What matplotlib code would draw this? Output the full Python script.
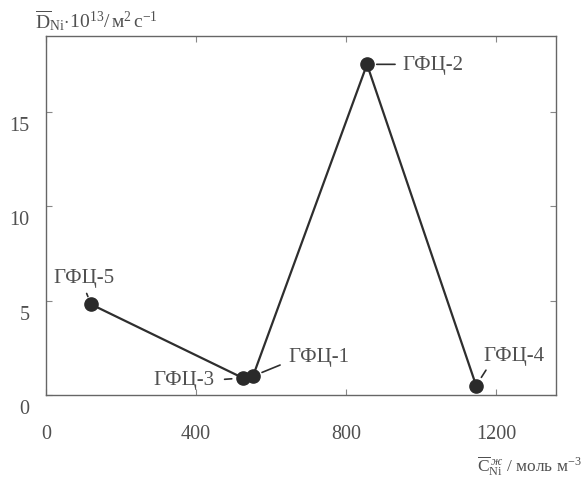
import matplotlib
matplotlib.use("Agg")
import matplotlib.pyplot as plt
from matplotlib.transforms import ScaledTranslation

plt.rcParams['font.family'] = ['Liberation Serif', 'DejaVu Serif']
plt.rcParams['mathtext.fontset'] = 'custom'
plt.rcParams['mathtext.rm'] = 'Liberation Serif'
plt.rcParams['mathtext.it'] = 'Liberation Serif:italic'
plt.rcParams['mathtext.bf'] = 'Liberation Serif:bold'

# data (path order as drawn)
labels = ['ГФЦ-5', 'ГФЦ-3', 'ГФЦ-1', 'ГФЦ-2', 'ГФЦ-4']
conc = [120, 525, 552, 856, 1147]
diff = [4.8, 0.9, 1.0, 17.5, 0.5]
xticks = [0, 400, 800, 1200]
yticks = [0, 5, 10, 15]

txtc = '#505050'
linec = '#2e2e2e'

fig = plt.figure(figsize=(5.83, 4.81), dpi=100)
ax = fig.add_axes([46/583, 1-396/481, 510/583, 359/481])
ax.plot(conc, diff, '-', color=linec, lw=1.6, marker='o', ms=9.5,
        mfc='#2a2a2a', mec='#2a2a2a', zorder=3)
ax.set_xlim(0, 1360)
ax.set_ylim(0, 19)
ax.set_xticks(xticks)
ax.set_yticks(yticks)
ax.tick_params(direction='in', top=True, right=True, length=4, width=0.8,
               colors='#888888', labelcolor=txtc, labelsize=14.5)
ax.tick_params(axis='x', pad=21)
ax.tick_params(axis='y', pad=12)
for sp in ax.spines.values():
    sp.set_color('#666666')
    sp.set_linewidth(1.0)

fig.canvas.draw()
for lab in ax.get_yticklabels():
    lab.set_transform(lab.get_transform() + ScaledTranslation(0, -11/100, fig.dpi_scale_trans))

# annotations: (offset px, ha, va, relpos, shrinkA, shrinkB)
specs = {
    'ГФЦ-5': ((-7, 27), 'center', 'center', (0.5, 0.0), 3, 6),
    'ГФЦ-3': ((-28, -2), 'right', 'center', (1.0, 0.5), 5, 8),
    'ГФЦ-1': ((35, 20), 'left', 'center', (0.0, 0.2), 4, 7),
    'ГФЦ-2': ((35, 0), 'left', 'center', (0.0, 0.5), 3, 7),
    'ГФЦ-4': ((7, 30), 'left', 'center', (0.1, 0.0), 2, 7),
}
for name, x, y in zip(labels, conc, diff):
    off, ha, va, rp, sa, sb = specs[name]
    ax.annotate(name, xy=(x, y), xytext=off, textcoords='offset pixels',
                ha=ha, va=va, fontsize=15, color=txtc,
                arrowprops=dict(arrowstyle='-', color=linec, lw=1.2,
                                relpos=rp, shrinkA=sa, shrinkB=sb))

fig.text(35/583, 1-21/481, r'$\overline{\mathrm{D}}_{\mathrm{Ni}}\!\cdot\!10^{13}/\,\mathrm{м}^{2}\,\mathrm{с}^{-1}$',
         ha='left', va='center', fontsize=14, color=txtc)
fig.text(582/583, 1-466/481, r'$\overline{\mathrm{C}}^{\,ж}_{\mathrm{Ni}}$ / моль м$^{-3}$',
         ha='right', va='center', fontsize=12.5, color=txtc)

fig.savefig('out.png', dpi=100)
